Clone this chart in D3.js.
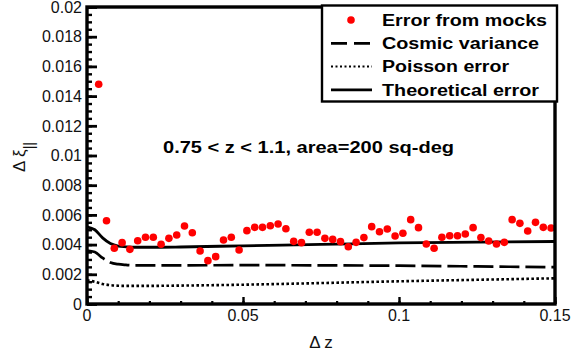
<!DOCTYPE html>
<html>
<head>
<meta charset="utf-8">
<script src="https://cdn.jsdelivr.net/npm/d3@7"></script>
<style>
  html, body { margin: 0; padding: 0; background: #fff; }
  svg { display: block; font-family: "Liberation Sans", Arial, sans-serif; }
</style>
</head>
<body>
<svg id="chart" width="572" height="356"></svg>
<script>
// Mock-catalogue errors: bin centres in Δz and measured Δξ∥
const mockDz = d3.range(59).map(i => 0.00375 + 0.0025 * i);
const mockErr = [
  0.0148, 0.00561, 0.00375, 0.00413, 0.00368, 0.00426, 0.00449, 0.00449, 0.00402, 0.00442,
  0.00465, 0.00525, 0.00480, 0.00357, 0.00292, 0.00319, 0.00431, 0.00449, 0.00364, 0.00494,
  0.00516, 0.00516, 0.00527, 0.00539, 0.00507, 0.00422, 0.00413, 0.00483, 0.00483, 0.00442,
  0.00435, 0.00420, 0.00386, 0.00415, 0.00447, 0.00521, 0.00487, 0.00505, 0.00458, 0.00476,
  0.00568, 0.00514, 0.00404, 0.00375, 0.00449, 0.00460, 0.00460, 0.00471, 0.00514, 0.00447,
  0.00424, 0.00404, 0.00415, 0.00568, 0.00543, 0.00492, 0.00550, 0.00516, 0.00512
];

// Model curves sampled in Δz
const modelDz      = [0, 0.0025, 0.005, 0.0075, 0.01, 0.0125, 0.015, 0.02, 0.03, 0.05, 0.075, 0.1, 0.125, 0.15];
const cosmicVar    = [0.0036, 0.0035, 0.0031, 0.0028, 0.00268, 0.00263, 0.0026, 0.0026, 0.0026, 0.00262, 0.0026, 0.00258, 0.00253, 0.00248];
const poissonErr   = [0.0016, 0.0015, 0.00135, 0.00127, 0.00123, 0.00122, 0.00122, 0.00122, 0.00124, 0.0013, 0.00141, 0.00153, 0.00163, 0.00173];
const theoryErr    = [0.0052, 0.0050, 0.00445, 0.00407, 0.0039, 0.00385, 0.00382, 0.00382, 0.00384, 0.00392, 0.00401, 0.00411, 0.00416, 0.00421];

// Axis ticks
const xMajor = [0, 0.05, 0.1, 0.15];
const xMajorLabels = ["0", "0.05", "0.1", "0.15"];
const xMinor = d3.range(0, 0.1501, 0.01);
const yMajor = [0, 0.002, 0.004, 0.006, 0.008, 0.01, 0.012, 0.014, 0.016, 0.018, 0.02];
const yMajorLabels = ["0", "0.002", "0.004", "0.006", "0.008", "0.01", "0.012", "0.014", "0.016", "0.018", "0.02"];
const yMinor = d3.range(0, 0.02001, 0.0005);

const legendItems = ["Error from mocks", "Cosmic variance", "Poisson error", "Theoretical error"];
const annotation = "0.75 < z < 1.1, area=200 sq-deg";

const svg = d3.select("#chart");
const L = 87, R = 555, T = 7, B = 304;
const x = d3.scaleLinear().domain([0, 0.15]).range([L, R]);
const y = d3.scaleLinear().domain([0, 0.02]).range([B, T]);

const plot = svg.append("g");
svg.append("defs").append("clipPath").attr("id", "clip")
  .append("rect").attr("x", L).attr("y", T).attr("width", R - L).attr("height", B - T);

// model curves
const line = vals => d3.line()
  .x((d, i) => x(modelDz[i]))
  .y((d, i) => y(vals[i]))
  .curve(d3.curveMonotoneX)(vals);

const curves = plot.append("g").attr("clip-path", "url(#clip)");
curves.append("path").attr("d", line(poissonErr))
  .attr("fill", "none").attr("stroke", "#000").attr("stroke-width", 2.6)
  .attr("stroke-dasharray", "2.6,2.4");
curves.append("path").attr("d", line(cosmicVar))
  .attr("fill", "none").attr("stroke", "#000").attr("stroke-width", 2.7)
  .attr("stroke-dasharray", "20,6");
curves.append("path").attr("d", line(theoryErr))
  .attr("fill", "none").attr("stroke", "#000").attr("stroke-width", 2.8);

// mock points
plot.append("g").selectAll("circle").data(mockErr).join("circle")
  .attr("cx", (d, i) => x(mockDz[i]))
  .attr("cy", d => y(d))
  .attr("r", 3.8)
  .attr("fill", "#ff0000");

// y ticks (inside the frame)
const yAxisMinor = d3.axisRight(y).tickValues(yMinor).tickSize(5).tickFormat("");
const yAxisMajor = d3.axisRight(y).tickValues(yMajor).tickSize(10).tickFormat("");
svg.append("g").attr("transform", `translate(${L},0)`).call(yAxisMinor)
  .call(g => g.select(".domain").remove())
  .call(g => g.selectAll("line").attr("stroke", "#000").attr("stroke-width", 2.4));
svg.append("g").attr("transform", `translate(${L},0)`).call(yAxisMajor)
  .call(g => g.select(".domain").remove())
  .call(g => g.selectAll("line").attr("stroke", "#000").attr("stroke-width", 2.8));

// x ticks (inside the frame, pointing up)
const xAxisMinor = d3.axisTop(x).tickValues(xMinor).tickSize(3).tickFormat("");
const xAxisMajor = d3.axisTop(x).tickValues(xMajor).tickSize(7).tickFormat("");
svg.append("g").attr("transform", `translate(0,${B})`).call(xAxisMinor)
  .call(g => g.select(".domain").remove())
  .call(g => g.selectAll("line").attr("stroke", "#000").attr("stroke-width", 2.2));
svg.append("g").attr("transform", `translate(0,${B})`).call(xAxisMajor)
  .call(g => g.select(".domain").remove())
  .call(g => g.selectAll("line").attr("stroke", "#000").attr("stroke-width", 2.4));

// frame
svg.append("rect").attr("x", L).attr("y", T).attr("width", R - L).attr("height", B - T)
  .attr("fill", "none").attr("stroke", "#000").attr("stroke-width", 3.4);

// tick labels
svg.append("g").selectAll("text").data(yMajor).join("text")
  .attr("x", L - 5).attr("y", d => y(d)).attr("dy", "0.36em")
  .attr("text-anchor", "end").attr("font-size", 16).attr("fill", "#111")
  .text((d, i) => yMajorLabels[i]);
svg.append("g").selectAll("text").data(xMajor).join("text")
  .attr("x", d => x(d)).attr("y", 321)
  .attr("text-anchor", "middle").attr("font-size", 16).attr("fill", "#111")
  .text((d, i) => xMajorLabels[i]);

// axis titles
svg.append("text").attr("x", 321).attr("y", 348).attr("text-anchor", "middle")
  .attr("font-size", 17).attr("fill", "#111").text("Δ z");
const yt = svg.append("text").attr("transform", "translate(25,157) rotate(-90)")
  .attr("text-anchor", "middle").attr("font-size", 17).attr("fill", "#111");
yt.append("tspan").text("Δ ξ");
yt.append("tspan").attr("dy", 9).attr("font-size", 14).text("||");

// annotation (wide bold face)
svg.append("text").attr("x", 163).attr("y", 153)
  .attr("font-size", 16).attr("font-weight", "bold").attr("fill", "#000")
  .attr("textLength", 291).attr("lengthAdjust", "spacingAndGlyphs")
  .text(annotation);

// legend
const legendWidths = [165, 157, 127, 157];
const lg = svg.append("g");
lg.append("rect").attr("x", 322).attr("y", 5.5).attr("width", 235).attr("height", 96)
  .attr("fill", "#fff").attr("stroke", "#000").attr("stroke-width", 2.4);
const rowY = i => 20 + i * 23.3;
lg.append("circle").attr("cx", 351).attr("cy", rowY(0)).attr("r", 3.8).attr("fill", "#ff0000");
lg.append("line").attr("x1", 331).attr("x2", 372).attr("y1", rowY(1)).attr("y2", rowY(1))
  .attr("stroke", "#000").attr("stroke-width", 2.7).attr("stroke-dasharray", "16,7");
lg.append("line").attr("x1", 331).attr("x2", 372).attr("y1", rowY(2)).attr("y2", rowY(2))
  .attr("stroke", "#000").attr("stroke-width", 2).attr("stroke-dasharray", "2,2.5");
lg.append("line").attr("x1", 331).attr("x2", 372).attr("y1", rowY(3)).attr("y2", rowY(3))
  .attr("stroke", "#000").attr("stroke-width", 2.7);
lg.append("g").selectAll("text").data(legendItems).join("text")
  .attr("x", 382).attr("y", (d, i) => rowY(i)).attr("dy", "0.36em")
  .attr("font-size", 16).attr("font-weight", "bold").attr("fill", "#000")
  .attr("textLength", (d, i) => legendWidths[i]).attr("lengthAdjust", "spacingAndGlyphs")
  .text(d => d);
</script>
</body>
</html>
